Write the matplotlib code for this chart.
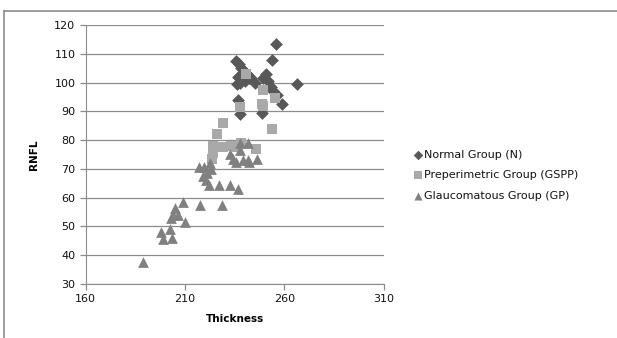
import numpy as np
import matplotlib.pyplot as plt
from matplotlib.lines import Line2D

# Normal group (N)
normal_x = [256, 253.5, 235.5, 237, 238, 239.5, 241, 236.5, 242, 237.5, 236, 240, 245,
            250.5, 251.5, 249, 253, 254, 256.5, 259, 266.5, 236.5, 237.5, 248.5, 243]
normal_y = [113.5, 108, 107.5, 106.5, 105, 104, 103, 102, 101.5, 100, 99.5, 100.5, 100,
            103, 100.5, 101.5, 98.5, 97, 95.5, 92.5, 99.5, 94, 89, 89.5, 101.5]

# Preperimetric group (GSPP)
prep_x = [240.5, 249, 255, 237.5, 249, 248.5, 229, 253.5, 226, 224, 229, 233, 245.5,
          224, 223.5, 238, 236]
prep_y = [103, 97.5, 94.5, 91.5, 92, 92.5, 86, 84, 82, 78, 77.5, 78, 77,
          75.5, 73.5, 79, 77.5]

# Glaucomatous group (GP)
glau_x = [189, 198, 199, 202.5, 203.5, 205, 204, 206.5, 209, 210, 203, 217, 219, 220.5,
          222, 222.5, 227, 232.5, 236.5, 217.5, 228.5, 237.5, 241.5, 232.5, 234, 235.5,
          239, 241.5, 246, 237.5, 223, 221, 219.5, 242]
glau_y = [37.5, 48, 45.5, 49, 46, 56.5, 54, 54, 58.5, 51.5, 53, 70.5, 67.5, 66,
          64.5, 72, 64.5, 64.5, 63, 57.5, 57.5, 79, 79, 75, 73.5, 72.5,
          73, 73, 73.5, 76.5, 70, 68.5, 70.5, 72.5]

x_ticks = [160, 210, 260, 310]
y_ticks = [30, 40, 50, 60, 70, 80, 90, 100, 110, 120]

fig = plt.figure(figsize=(6.17, 3.38), dpi=100)
ax = fig.add_axes([0.139, 0.160, 0.483, 0.766])

grid_c = '#8c8c8c'
ax.scatter(normal_x, normal_y, marker='D', s=42, c='#585858', lw=0, label='Normal Group (N)', zorder=3)
ax.scatter(prep_x, prep_y, marker='s', s=55, c='#a9a9a9', lw=0, label='Preperimetric Group (GSPP)', zorder=3)
ax.scatter(glau_x, glau_y, marker='^', s=60, c='#808080', lw=0, label='Glaucomatous Group (GP)', zorder=3)

ax.set_xlim(160, 310)
ax.set_ylim(30, 120)
ax.set_xticks(x_ticks)
ax.set_yticks(y_ticks)
ax.yaxis.grid(True, color=grid_c, lw=0.9)
ax.set_axisbelow(True)
for s in ['top', 'right']:
    ax.spines[s].set_visible(False)
for s in ['left', 'bottom']:
    ax.spines[s].set_color(grid_c)
ax.tick_params(axis='both', colors=grid_c, labelcolor='#111111', labelsize=8, length=4, width=0.9)

ax.set_xlabel('Thickness', fontsize=7.5, fontweight='bold', labelpad=7)
ax.set_ylabel('RNFL', fontsize=7.5, fontweight='bold', labelpad=11)

leg = ax.legend(loc='center left', bbox_to_anchor=(1.07, 0.42), frameon=False, fontsize=8,
                handlelength=0.6, handletextpad=0.2, labelspacing=0.95, markerscale=0.75)
for t in leg.get_texts():
    t.set_color('#111111')

# outer chart border
fig.add_artist(Line2D([4/617, 1.02], [1 - 11/338, 1 - 11/338], color='#8c8c8c', lw=1.2))
fig.add_artist(Line2D([4/617, 4/617], [-0.02, 1 - 11/338], color='#8c8c8c', lw=1.2))

plt.savefig('out.png', dpi=100)
